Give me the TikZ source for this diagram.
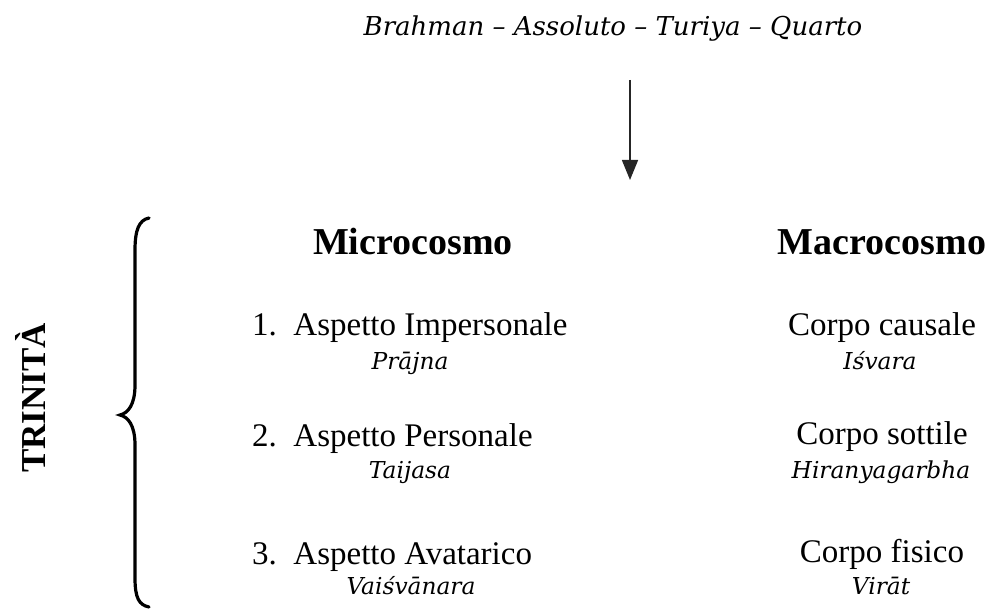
\documentclass[tikz,border=0pt]{standalone}
\usepackage{fontspec}
\setmainfont{Liberation Serif}
\newfontfamily\itf{DejaVu Serif}
\usetikzlibrary{arrows.meta}
\tikzset{
  heading/.style={font=\fontsize{38}{40}\selectfont\bfseries, anchor=base, inner sep=0pt},
  rowtext/.style={font=\fontsize{33}{36}\selectfont, anchor=base west, inner sep=0pt},
  righttext/.style={font=\fontsize{33}{36}\selectfont, anchor=base, inner sep=0pt},
  sanskrit/.style={font=\fontsize{23.3}{25}\selectfont\itf\itshape, anchor=base, inner sep=0pt},
  toptext/.style={font=\fontsize{26}{28}\selectfont\itf\itshape, anchor=base, inner sep=0pt},
  flow/.style={line width=1.5pt, draw=black!85, -{Triangle[width=16pt,length=20pt]}},
  bracepath/.style={line width=3.2pt, line cap=round},
}
\begin{document}
\begin{tikzpicture}[x=1pt, y=-1pt]
\useasboundingbox (0,0) rectangle (993,612);
\node[toptext] (top) at (613,36) {Brahman – Assoluto – Turiya – Quarto};
\coordinate (a1) at (630,80);
\coordinate (a2) at (630,180);
\draw[flow] (a1) -- (a2);

\node[heading] (micro) at (413,255) {Microcosmo};
\node[heading] (macro) at (882,255) {Macrocosmo};

\node[rowtext] (l1) at (252,335) {1.\ \ Aspetto Impersonale};
\node[sanskrit] (s1) at (410,369) {Prājna};
\node[righttext] (r1) at (882,335) {Corpo causale};
\node[sanskrit] (t1) at (880,369) {Iśvara};

\node[rowtext] (l2) at (252,446) {2.\ \ Aspetto Personale};
\node[sanskrit] (s2) at (410,478) {Taijasa};
\node[righttext] (r2) at (882,444) {Corpo sottile};
\node[sanskrit] (t2) at (881,478) {Hiranyagarbha};

\node[rowtext] (l3) at (252,564) {3.\ \ Aspetto Avatarico};
\node[sanskrit] (s3) at (411,594) {Vaiśvānara};
\node[righttext] (r3) at (882,562) {Corpo fisico};
\node[sanskrit] (t3) at (881,594) {Virāt};

\node[font=\fontsize{35}{38}\selectfont\bfseries, rotate=90, inner sep=0pt] (trin) at (30,398) {TRINITÀ};

\draw[bracepath] (149,218) .. controls (139,220) and (135,230) .. (135,250) -- (135,385) .. controls (135,405) and (128,413) .. (120,415) .. controls (128,417) and (135,425) .. (135,445) -- (135,578) .. controls (135,598) and (139,605) .. (149,607);
\end{tikzpicture}
\end{document}
